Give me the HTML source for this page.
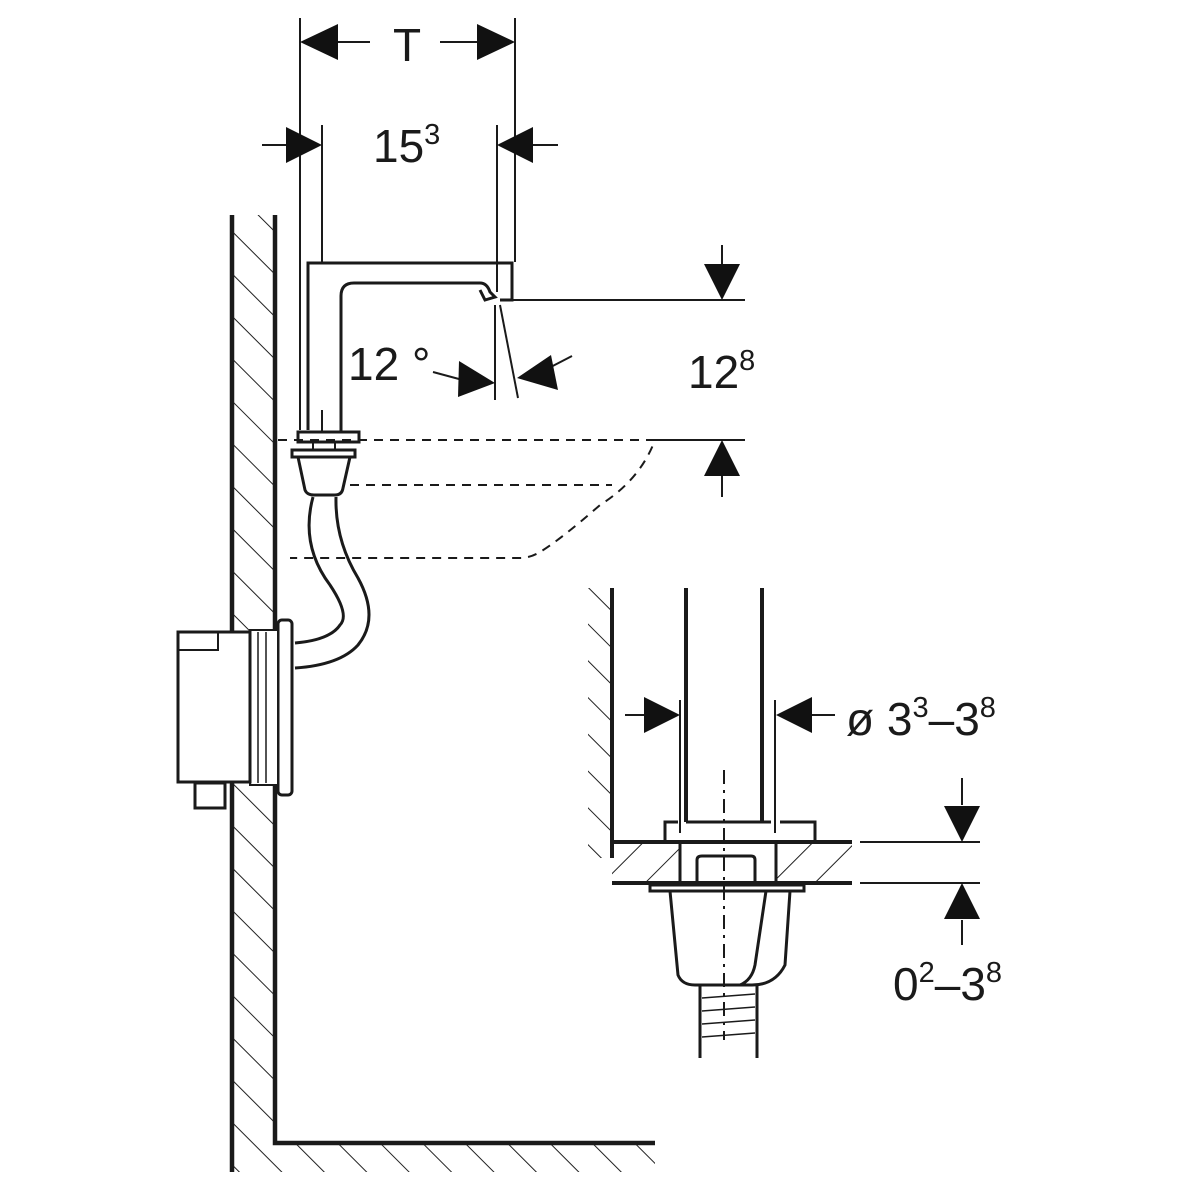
<!DOCTYPE html>
<html><head><meta charset="utf-8"><style>html,body{margin:0;padding:0;background:#fff}svg{display:block}text{font-family:"Liberation Sans",sans-serif;fill:#1a1a1a}</style></head><body>
<svg width="1200" height="1200" viewBox="0 0 1200 1200" xmlns="http://www.w3.org/2000/svg">
<defs>
<pattern id="h" patternUnits="userSpaceOnUse" width="30" height="30" patternTransform="rotate(45)"><line x1="0" y1="0" x2="0" y2="30" stroke="#222" stroke-width="2"/></pattern>
<pattern id="h2" patternUnits="userSpaceOnUse" width="30" height="30" patternTransform="rotate(-45)"><line x1="0" y1="0" x2="0" y2="30" stroke="#222" stroke-width="2"/></pattern>
<pattern id="h3" patternUnits="userSpaceOnUse" width="26" height="26" patternTransform="rotate(-45)"><line x1="0" y1="0" x2="0" y2="26" stroke="#222" stroke-width="2"/></pattern>
</defs>
<g stroke="#1a1a1a" fill="none">
<!-- wall -->
<rect x="232" y="215" width="43" height="957" fill="url(#h2)" stroke="none"/>
<rect x="275" y="1143" width="380" height="29" fill="url(#h2)" stroke="none"/>
<line x1="232" y1="215" x2="232" y2="1172" stroke-width="4.5"/>
<polyline points="275,215 275,1143 655,1143" stroke-width="4.5"/>
<g stroke-width="2">
<line x1="300" y1="18" x2="300" y2="430"/>
<line x1="515" y1="18" x2="515" y2="262"/>
<line x1="322" y1="125" x2="322" y2="262"/>
<line x1="497" y1="125" x2="497" y2="292"/>
<line x1="322" y1="410" x2="322" y2="432"/>
<line x1="500" y1="300" x2="745" y2="300"/>
<line x1="655" y1="440" x2="745" y2="440"/>
<line x1="495" y1="305" x2="495" y2="400"/>
<line x1="500" y1="305" x2="518" y2="398"/>
</g>
<!-- T -->
<line x1="302" y1="42" x2="370" y2="42" stroke-width="2"/>
<line x1="440" y1="42" x2="513" y2="42" stroke-width="2"/>
<path d="M300,42 l38,-18 v36z M515,42 l-38,-18 v36z" fill="#111" stroke="none"/>
<!-- 15 -->
<line x1="262" y1="145" x2="300" y2="145" stroke-width="2"/>
<path d="M322,145 l-36,-18 v36z" fill="#111" stroke="none"/>
<line x1="520" y1="145" x2="558" y2="145" stroke-width="2"/>
<path d="M497,145 l36,-18 v36z" fill="#111" stroke="none"/>
<!-- 12.8 -->
<line x1="722" y1="245" x2="722" y2="270" stroke-width="2"/>
<path d="M722,300 l-18,-36 h36z" fill="#111" stroke="none"/>
<line x1="722" y1="470" x2="722" y2="497" stroke-width="2"/>
<path d="M722,440 l-18,36 h36z" fill="#111" stroke="none"/>
<!-- 12 deg arrows -->
<path d="M433,372 Q455,378 470,382" stroke-width="2"/>
<path d="M495,383 l-36,-22 l-1,36z" fill="#111" stroke="none"/>
<path d="M572,356 L545,370" stroke-width="2"/>
<path d="M517,378 l34,-23 l7,35z" fill="#111" stroke="none"/>
<!-- spout -->
<path d="M308,430 V263 H512 V300 H500" stroke-width="3"/>
<path d="M341,432 V296 Q341,283 354,283 H480 Q487,283 490,292 L495,297 L485,300 L480,290" stroke-width="3"/>
<rect x="298" y="432" width="61" height="10" stroke-width="3" fill="#fff"/>
<rect x="313" y="442" width="22" height="8" stroke-width="2"/>
<rect x="292" y="450" width="63" height="7" stroke-width="3"/>
<path d="M298,457 L305,490 Q307,495 314,495 H335 Q342,495 343,488 L350,457" stroke-width="3"/>
<g stroke-width="2" stroke-dasharray="9,7">
<path d="M278,440 H655 Q640,480 600,505 Q560,540 540,552 Q530,558 520,558 H290"/>
<line x1="350" y1="485" x2="612" y2="485"/>
</g>
<!-- hose -->
<path d="M313,497 Q300,545 330,585 Q350,615 340,625 Q330,640 295,643" stroke-width="3"/>
<path d="M336,497 Q335,540 358,578 Q380,618 358,645 Q340,665 295,668" stroke-width="3"/>
<!-- box -->
<rect x="278" y="620" width="14" height="175" rx="4" stroke-width="3" fill="#fff"/>
<rect x="250" y="630" width="28" height="155" stroke-width="2" fill="#fff"/>
<line x1="258" y1="632" x2="258" y2="783" stroke-width="1.5"/>
<line x1="266" y1="632" x2="266" y2="783" stroke-width="1.5"/>
<rect x="178" y="632" width="72" height="150" stroke-width="3" fill="#fff"/>
<rect x="178" y="632" width="40" height="18" stroke-width="2"/>
<rect x="195" y="783" width="30" height="25" stroke-width="3"/>
<!-- detail -->
<rect x="588" y="588" width="24" height="270" fill="url(#h3)" stroke="none"/>
<rect x="612" y="842" width="240" height="41" fill="url(#h)" stroke="none"/>
<rect x="680" y="842" width="96" height="41" fill="#fff" stroke="none"/>
<line x1="612" y1="588" x2="612" y2="858" stroke-width="4"/>
<line x1="612" y1="842" x2="852" y2="842" stroke-width="4"/>
<line x1="612" y1="883" x2="852" y2="883" stroke-width="4"/>
<line x1="680" y1="842" x2="680" y2="883" stroke-width="3"/>
<line x1="776" y1="842" x2="776" y2="883" stroke-width="3"/>
<line x1="686" y1="588" x2="686" y2="822" stroke-width="4"/>
<line x1="762" y1="588" x2="762" y2="822" stroke-width="4"/>
<line x1="680" y1="700" x2="680" y2="833" stroke-width="2"/>
<line x1="775" y1="700" x2="775" y2="833" stroke-width="2"/>
<line x1="724" y1="770" x2="724" y2="1040" stroke-width="2" stroke-dasharray="14,6,3,6"/>
<path d="M665,842 V822 H678 M686,822 H771 M780,822 H815 V842" stroke-width="3"/>
<path d="M697,883 V860 Q697,856 702,856 H751 Q755,856 755,860 V883" stroke-width="3"/>
<rect x="650" y="885" width="154" height="6" stroke-width="3"/>
<path d="M670,891 L678,975 Q682,985 695,985 H752 Q775,985 785,965 L790,891" stroke-width="3"/>
<path d="M766,891 L755,965 Q752,980 740,985" stroke-width="3"/>
<line x1="700" y1="985" x2="700" y2="1058" stroke-width="3"/>
<line x1="757" y1="985" x2="757" y2="1058" stroke-width="3"/>
<g stroke-width="1.5"><line x1="702" y1="998" x2="755" y2="994"/><line x1="702" y1="1011" x2="755" y2="1007"/><line x1="702" y1="1024" x2="755" y2="1020"/><line x1="702" y1="1037" x2="755" y2="1033"/></g>
<line x1="625" y1="715" x2="650" y2="715" stroke-width="2"/>
<path d="M680,715 l-36,-18 v36z" fill="#111" stroke="none"/>
<line x1="810" y1="715" x2="835" y2="715" stroke-width="2"/>
<path d="M776,715 l36,-18 v36z" fill="#111" stroke="none"/>
<line x1="860" y1="842" x2="980" y2="842" stroke-width="2"/>
<line x1="860" y1="883" x2="980" y2="883" stroke-width="2"/>
<line x1="962" y1="778" x2="962" y2="805" stroke-width="2"/>
<path d="M962,842 l-18,-36 h36z" fill="#111" stroke="none"/>
<line x1="962" y1="920" x2="962" y2="945" stroke-width="2"/>
<path d="M962,883 l-18,36 h36z" fill="#111" stroke="none"/>
</g>
<text x="393" y="61" font-size="46">T</text>
<text x="373" y="162" font-size="46">15<tspan font-size="29" dy="-18">3</tspan></text>
<text x="348" y="380" font-size="46">12 °</text>
<text x="688" y="388" font-size="46">12<tspan font-size="29" dy="-18">8</tspan></text>
<text x="846" y="735" font-size="46">ø 3<tspan font-size="29" dy="-18">3</tspan><tspan dy="18">–3</tspan><tspan font-size="29" dy="-18">8</tspan></text>
<text x="893" y="1000" font-size="46">0<tspan font-size="29" dy="-18">2</tspan><tspan dy="18">–3</tspan><tspan font-size="29" dy="-18">8</tspan></text>
</svg>
</body></html>
